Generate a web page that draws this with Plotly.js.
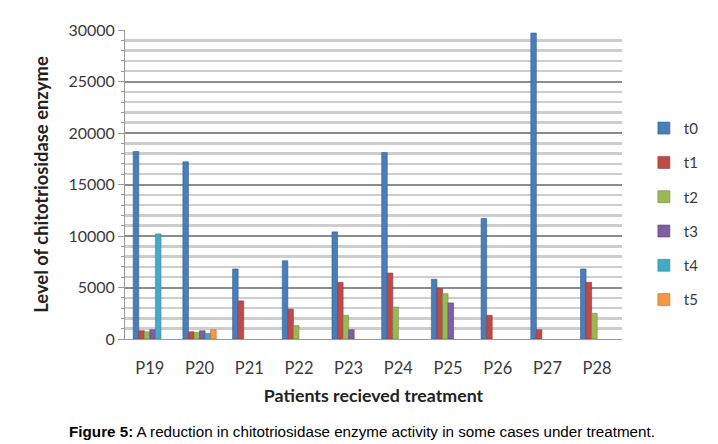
<!DOCTYPE html>
<html>
<head>
<meta charset="utf-8">
<script src="https://cdn.plot.ly/plotly-3.0.1.min.js"></script>
<style>
html,body{margin:0;padding:0;background:#fff;}
#chart{width:718px;height:412px;}
#cap{position:absolute;left:0;top:423px;width:724px;text-align:center;font-family:"Liberation Sans",Arial,sans-serif;font-size:15.2px;color:#000;}
</style>
</head>
<body>
<div id="chart"></div>
<div id="cap"><b>Figure 5:</b> A reduction in chitotriosidase enzyme activity in some cases under treatment.</div>
<script>
var patients = ["P19","P20","P21","P22","P23","P24","P25","P26","P27","P28"];
var seriesNames = ["t0","t1","t2","t3","t4","t5"];
var t0 = [18200, 17200, 6800, 7600, 10400, 18100, 5800, 11700, 29700, 6800];
var t1 = [800, 700, 3700, 2900, 5500, 6400, 4900, 2300, 900, 5500];
var t2 = [700, 650, null, 1300, 2300, 3100, 4400, null, null, 2500];
var t3 = [900, 800, null, null, 900, null, 3500, null, null, null];
var t4 = [10200, 550, null, null, null, null, null, null, null, null];
var t5 = [null, 900, null, null, null, null, null, null, null, null];
var seriesValues = [t0, t1, t2, t3, t4, t5];
var colors = ["#4a7ebb", "#be4b48", "#98b954", "#7d60a0", "#46aac5", "#f79646"];
var lines = ["#2c5d94", "#8c3836", "#71893f", "#5c4776", "#31859c", "#b66d31"];

var traces = seriesValues.map(function(v, i){
  return {
    type: "bar",
    name: seriesNames[i],
    x: patients,
    y: v,
    legendgroup: "g" + i,
    marker: {color: colors[i], line: {color: lines[i], width: 0.6}}
  };
});

var layout = {
  width: 718, height: 412,
  margin: {l: 125, r: 96, t: 30, b: 73},
  paper_bgcolor: "#ffffff",
  plot_bgcolor: "#ffffff",
  font: {family: "Lato, 'Open Sans', sans-serif", size: 16, color: "#3a3a3a"},
  barmode: "group",
  bargap: 0.33,
  bargroupgap: 0,
  showlegend: true,
  legend: {
    x: 1.044, xanchor: "left", y: 0.405, yanchor: "middle",
    font: {size: 15, color: "#3a3a3a"},
    tracegroupgap: 11.8,
    itemwidth: 30,
    bgcolor: "rgba(0,0,0,0)"
  },
  xaxis: {
    type: "category",
    showgrid: false,
    showline: true, linecolor: "#9a9a9a", linewidth: 1,
    ticks: "", ticklabelstandoff: 14,
    tickfont: {size: 16.5},
    title: {text: "<b>Patients recieved treatment</b>", font: {size: 17.8, color: "#222"}, standoff: 12}
  },
  yaxis: {
    range: [0, 30000],
    dtick: 5000,
    tick0: 0,
    tickformat: "d",
    showgrid: true, gridcolor: "#8c8c8c", gridwidth: 2,
    minor: {dtick: 1000, showgrid: true, gridcolor: "#cdcdcd", gridwidth: 2.5, ticks: "outside", ticklen: 3, tickcolor: "#9a9a9a"},
    showline: true, linecolor: "#9a9a9a", linewidth: 1,
    ticks: "outside", ticklen: 6, tickcolor: "#9a9a9a",
    zeroline: false,
    tickfont: {size: 16},
    title: {text: "<b>Level of chitotriosidase enzyme</b>", font: {size: 18.4, color: "#222"}, standoff: 14}
  }
};

Plotly.newPlot("chart", traces, layout, {displayModeBar: false, staticPlot: true});
</script>
</body>
</html>
